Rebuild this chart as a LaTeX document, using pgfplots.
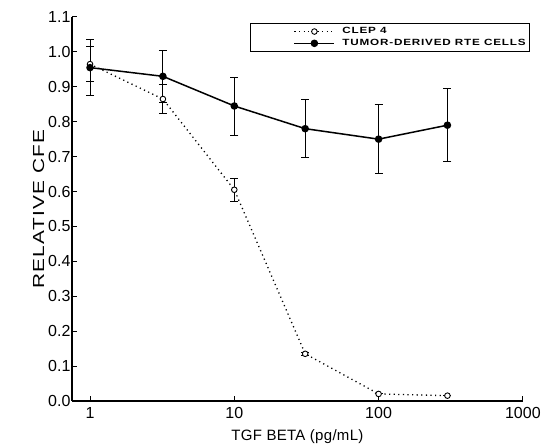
\documentclass[border=0pt]{standalone}
\usepackage{pgfplots}
\pgfplotsset{compat=1.18}
\usepackage{fontspec}
\setmainfont{Liberation Sans}
\newfontfamily\ylabfont[FakeStretch=1.3, LetterSpace=8]{Liberation Sans}
\newfontfamily\xlabfont[LetterSpace=2]{Liberation Sans}
\newfontfamily\legfont[FakeStretch=1.3, LetterSpace=9]{Liberation Sans}
\begin{document}
\begin{tikzpicture}
\begin{axis}[
  scale only axis,
  width=451pt, height=384pt,
  xmode=log,
  xmin=0.75, xmax=1000,
  ymin=0, ymax=1.1,
  axis x line=bottom, axis y line=left,
  axis line style={line width=2.6pt, -},
  xtick={1,10,100,1000},
  xticklabels={1,10,100,1000},
  xminorticks=false,
  ytick={0,0.1,...,1.1},
  yticklabel style={/pgf/number format/fixed,/pgf/number format/fixed zerofill,/pgf/number format/precision=1},
  /pgf/number format/assume math mode=true,
  tick align=inside,
  major tick length=5pt,
  tick style={line width=1pt, black},
  tick label style={font=\fontsize{16}{16}\selectfont},
  xticklabel style={yshift=-3pt},
  yticklabel style={xshift=2pt},
  xlabel={\xlabfont TGF BETA (pg/mL)},
  ylabel={\ylabfont RELATIVE CFE},
  xlabel style={font=\fontsize{15}{15}\selectfont, yshift=-4pt},
  ylabel style={font=\fontsize{16}{16}\selectfont, yshift=-3pt},
  legend style={at={(1.016,0.984)}, anchor=north east, font=\legfont\bfseries\fontsize{9}{10.5}\selectfont, draw=black, line width=1pt, inner xsep=2pt, inner ysep=2pt, row sep=0pt, cells={anchor=west}},
  legend cell align=left,
  legend image code/.code={
    \path[draw=none, fill=none] (-12pt,0pt) -- (76pt,0pt);
    \draw[mark repeat=2,mark phase=2,#1] plot coordinates {(30pt,0pt) (50pt,0pt) (70pt,0pt)};
  },
  clip=false,
]
\coordinate (sw) at (rel axis cs:0,0);
\coordinate (ne) at (rel axis cs:1,1);
\addplot[black, line width=1.3pt, dash pattern=on 1.2pt off 3.4pt, mark=*, mark size=2.8pt, mark options={solid, fill=white, line width=0.9pt},
  error bars/.cd, y dir=both, y explicit, error bar style={solid, line width=0.9pt}, error mark options={rotate=90, mark size=4pt, line width=0.9pt}]
coordinates {
  (1,0.965) +- (0,0.05)
  (3.2,0.865) +- (0,0.042)
  (10,0.605) +- (0,0.033)
  (31,0.135) +- (0,0.005)
  (100,0.02) +- (0,0.0)
  (300,0.015) +- (0,0.0)
};
\addplot[black, solid, line width=1.5pt, mark=*, mark size=3pt, mark options={solid, fill=black},
  error bars/.cd, y dir=both, y explicit, error bar style={solid, line width=0.9pt}, error mark options={rotate=90, mark size=4pt, line width=0.9pt}]
coordinates {
  (1,0.955) +- (0,0.08)
  (3.2,0.93) +- (0,0.075)
  (10,0.845) +- (0,0.083)
  (31,0.78) +- (0,0.083)
  (100,0.75) +- (0,0.098)
  (300,0.79) +- (0,0.105)
};
\addlegendimage{black, line width=0.9pt, dash pattern=on 1pt off 2pt, mark=diamond, mark size=3pt, mark options={solid, fill=white, line width=0.9pt}}
\addlegendentry{CLEP 4}
\addlegendimage{black, solid, line width=1.2pt, mark=diamond*, mark size=3pt, mark options={solid, fill=black}}
\addlegendentry{TUMOR-DERIVED RTE CELLS}
\end{axis}
\path ([xshift=-72pt,yshift=-47pt]sw) rectangle ([xshift=21pt,yshift=17pt]ne);
\end{tikzpicture}
\end{document}
